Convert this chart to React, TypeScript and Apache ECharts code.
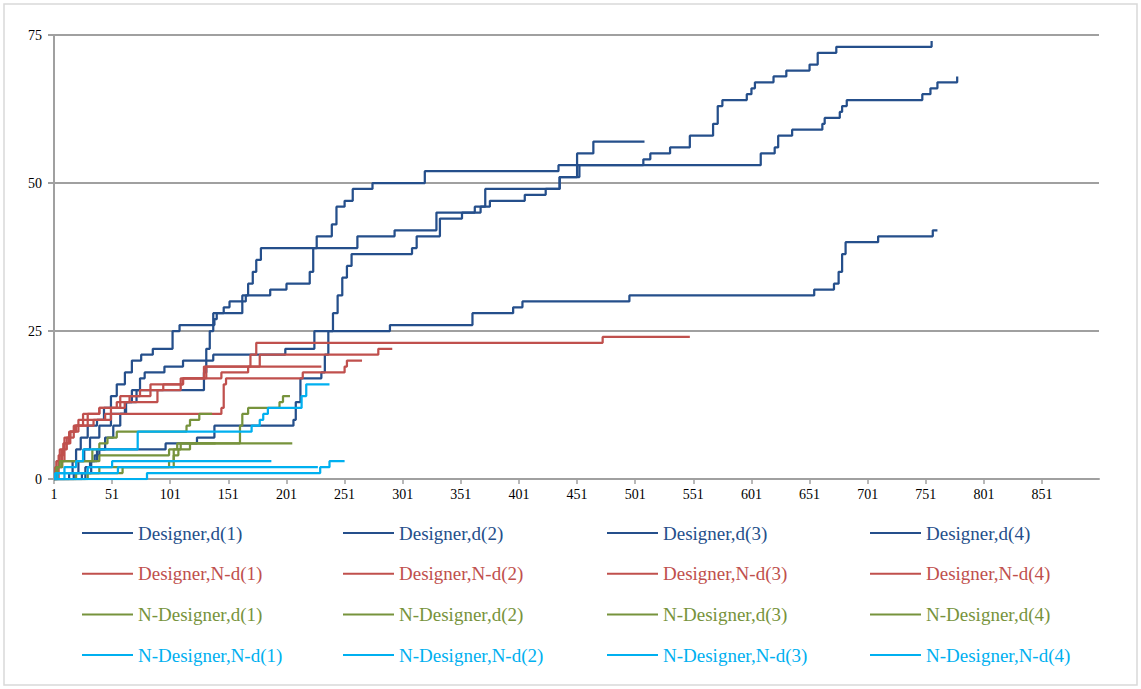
import React, { useEffect, useRef } from "react";
import * as echarts from "echarts";

// x categories: 1..900 (tick labels every 50)
const X_COUNT = 900;
const CATEGORIES: string[] = Array.from({ length: X_COUNT }, (_, i) => String(i + 1));
const Y_TICKS = [0, 25, 50, 75];

// step change points: [x, value] — value becomes "value" at x
const designerD1 = [[1,0],[14,1],[17,3],[20,5],[24,7],[30,9],[38,10],[44,12],[50,14],[55,16],[62,18],[68,20],[76,21],[86,22],[103,25],[109,26],[139,27],[141,28],[147,29],[152,30],[163,31],[168,33],[172,35],[175,37],[179,39],[262,41],[294,42],[330,45],[363,46],[372,49],[436,51],[453,53],[508,54],[514,55],[531,56],[548,58],[568,60],[572,63],[576,64],[597,65],[601,66],[604,67],[620,68],[631,69],[651,70],[658,72],[674,73],[756,74]];
const designerD2 = [[1,0],[18,1],[22,3],[27,5],[32,7],[40,9],[50,11],[62,13],[72,15],[130,18],[132,22],[135,25],[138,28],[163,30],[166,31],[187,32],[201,33],[221,35],[224,39],[227,41],[240,43],[244,46],[251,47],[258,49],[275,50],[320,52],[435,53],[451,55],[465,57],[509,57]];
const designerD3 = [[1,0],[25,1],[28,2],[32,3],[36,4],[40,5],[97,6],[124,7],[139,9],[207,10],[209,13],[213,17],[231,18],[234,21],[237,25],[241,28],[245,31],[249,34],[253,36],[257,38],[309,39],[313,41],[333,44],[352,45],[368,46],[376,47],[406,48],[424,49],[436,51],[451,53],[609,55],[621,56],[624,58],[636,59],[662,60],[664,61],[677,62],[679,63],[683,64],[748,65],[755,66],[761,67],[778,68]];
const designerD4 = [[1,0],[28,1],[33,3],[38,5],[45,7],[52,9],[58,11],[63,13],[68,15],[75,17],[79,18],[96,19],[112,20],[138,21],[200,22],[225,25],[290,26],[361,28],[396,29],[404,30],[496,31],[655,32],[672,33],[676,35],[679,38],[682,40],[710,41],[757,42],[761,42]];

const designerNd1 = [[1,0],[3,3],[6,5],[10,7],[15,8],[20,9],[30,11],[40,12],[55,13],[66,14],[84,15],[95,16],[112,17],[145,18],[168,19],[170,21],[175,23],[473,24],[548,24]];
const designerNd2 = [[1,0],[4,2],[8,5],[12,7],[18,9],[26,11],[40,12],[58,14],[75,15],[84,16],[112,17],[130,19],[178,21],[280,22],[292,22]];
const designerNd3 = [[1,0],[5,3],[10,6],[15,8],[22,10],[45,11],[145,12],[147,16],[149,17],[215,18],[251,19],[253,20],[266,20]];
const designerNd4 = [[1,0],[2,2],[5,4],[9,6],[14,8],[19,9],[35,10],[50,12],[62,13],[90,15],[110,17],[132,19],[231,19]];

const nDesignerD1 = [[1,0],[30,1],[60,2],[100,3],[104,5],[107,6],[161,9],[163,11],[168,12],[195,13],[198,14],[204,14]];
const nDesignerD2 = [[1,0],[4,2],[8,3],[32,3],[34,5],[40,6],[47,7],[55,8],[115,9],[118,10],[126,11],[137,11]];
const nDesignerD3 = [[1,0],[20,1],[40,2],[104,4],[108,5],[118,6],[206,6]];
const nDesignerD4 = [[1,0],[3,2],[6,3],[35,3],[40,4],[95,4],[100,5],[110,6],[140,6]];

const nDesignerNd1 = [[1,0],[10,2],[20,3],[26,5],[73,8],[171,9],[178,10],[181,11],[185,12],[214,14],[218,16],[238,16]];
const nDesignerNd2 = [[1,0],[4,1],[30,2],[51,3],[188,3]];
const nDesignerNd3 = [[1,0],[81,1],[230,2],[238,3],[251,3]];
const nDesignerNd4 = [[1,0],[2,1],[56,2],[228,2]];

const SERIES_NAMES = [
  "Designer,d(1)", "Designer,d(2)", "Designer,d(3)", "Designer,d(4)",
  "Designer,N-d(1)", "Designer,N-d(2)", "Designer,N-d(3)", "Designer,N-d(4)",
  "N-Designer,d(1)", "N-Designer,d(2)", "N-Designer,d(3)", "N-Designer,d(4)",
  "N-Designer,N-d(1)", "N-Designer,N-d(2)", "N-Designer,N-d(3)", "N-Designer,N-d(4)",
];
const SERIES_DATA = [
  designerD1, designerD2, designerD3, designerD4,
  designerNd1, designerNd2, designerNd3, designerNd4,
  nDesignerD1, nDesignerD2, nDesignerD3, nDesignerD4,
  nDesignerNd1, nDesignerNd2, nDesignerNd3, nDesignerNd4,
];
const GROUP_COLORS = ["#254f8b", "#c0504d", "#77933c", "#00b0f0"];

const FONT = "'Liberation Serif', 'Times New Roman', serif";
const AXIS_GRAY = "#a0a0a0";
const LABEL_EVERY = 50;

export default function App() {
  const ref = useRef<HTMLDivElement>(null);
  useEffect(() => {
    if (!ref.current) return;
    const chart = echarts.init(ref.current, undefined, { renderer: "svg" });
    const series = SERIES_NAMES.map((name, i) => ({
      name,
      type: "line",
      step: "end",
      symbol: "none",
      data: SERIES_DATA[i].map(([x, y]) => [String(x), y]),
      lineStyle: { color: GROUP_COLORS[Math.floor(i / 4)], width: 2.25 },
      itemStyle: { color: GROUP_COLORS[Math.floor(i / 4)] },
    }));
    const colLefts = [82, 343, 607, 870];
    const legends = colLefts.map((left, c) => ({
      orient: "vertical",
      left,
      top: 523,
      padding: 0,
      itemWidth: 51,
      itemHeight: 2,
      itemGap: 20.7,
      icon: "rect",
      selectedMode: false,
      textStyle: { fontFamily: FONT, fontSize: 19, lineHeight: 20 },
      data: [0, 1, 2, 3].map((r) => ({
        name: SERIES_NAMES[r * 4 + c],
        textStyle: { color: GROUP_COLORS[r] },
      })),
    }));
    const showEvery = (index: number) => index % LABEL_EVERY === 0;
    chart.setOption({
      animation: false,
      backgroundColor: "#ffffff",
      grid: { left: 54, right: 42, top: 35, bottom: 210, containLabel: false },
      xAxis: {
        type: "category",
        data: CATEGORIES,
        boundaryGap: false,
        axisLine: { lineStyle: { color: AXIS_GRAY, width: 2 } },
        axisTick: { interval: showEvery, length: 5, lineStyle: { color: AXIS_GRAY, width: 1.5 } },
        axisLabel: { interval: showEvery, color: "#000", fontFamily: FONT, fontSize: 14, margin: 8 },
        splitLine: { show: false },
      },
      yAxis: {
        type: "value",
        min: Y_TICKS[0],
        max: Y_TICKS[Y_TICKS.length - 1],
        interval: 25,
        axisLine: { show: true, lineStyle: { color: AXIS_GRAY, width: 2 } },
        axisTick: { show: true, length: 6, lineStyle: { color: AXIS_GRAY, width: 2 } },
        axisLabel: { color: "#000", fontFamily: FONT, fontSize: 14, margin: 12 },
        splitLine: { show: true, lineStyle: { color: AXIS_GRAY, width: 2 } },
      },
      legend: legends,
      graphic: [
        {
          type: "rect",
          shape: { x: 4, y: 4, width: 1133, height: 681 },
          style: { fill: "none", stroke: "#d9d9d9", lineWidth: 1.5 },
          silent: true,
          z: -1,
        },
      ],
      series,
    });
    return () => chart.dispose();
  }, []);
  return (
    <div
      ref={ref}
      style={{ position: "absolute", left: 0, top: 0, width: 1141, height: 689 }}
    />
  );
}
